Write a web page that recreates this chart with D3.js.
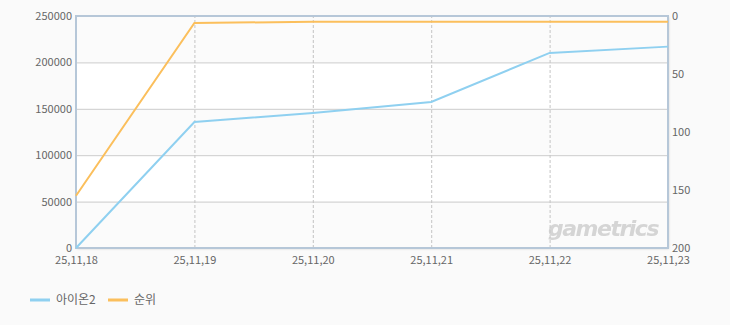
<!doctype html>
<html lang="ko">
  <head>
    <meta charset="utf-8">
    <title>아이온2 순위</title>
    <script src="https://d3js.org/d3.v7.min.js"></script>
    <style>
      body { margin: 0; background: #fafafa; }
      svg text { font-family: "Noto Sans CJK KR", "DejaVu Sans", sans-serif; }
    </style>
  </head>
  <body>
    <div id="chart"></div>

    <script>
      // data
      var dates = ["25,11,18", "25,11,19", "25,11,20", "25,11,21", "25,11,22", "25,11,23"];
      var users = [0, 135800, 145500, 157300, 210200, 217000];
      var ranks = [155, 6, 5, 5, 5, 5];
      var leftTicks = [0, 50000, 100000, 150000, 200000, 250000];
      var rightTicks = [0, 50, 100, 150, 200];
      var seriesNames = ["아이온2", "순위"];
      var seriesColors = ["#8fd0f0", "#fbbf5c"];

      var W = 730, H = 325;
      var margin = {top: 16, right: 62, bottom: 77, left: 76};
      var width = W - margin.left - margin.right,
          height = H - margin.top - margin.bottom;

      var svg = d3.select("#chart")
        .append("svg")
          .attr("width", W)
          .attr("height", H);

      var defs = svg.append("defs");
      var f = defs.append("filter").attr("id", "shadow")
        .attr("x", "-5%").attr("y", "-5%").attr("width", "110%").attr("height", "115%");
      f.append("feDropShadow").attr("dx", 1).attr("dy", 1).attr("stdDeviation", 1.2)
        .attr("flood-color", "#000").attr("flood-opacity", 0.15);

      var g = svg.append("g")
        .attr("transform", "translate(" + margin.left + "," + margin.top + ")");

      var x = d3.scalePoint().domain(dates).range([0, width]);
      var y = d3.scaleLinear().domain([0, 250000]).range([height, 0]);
      var yr = d3.scaleLinear().domain([0, 200]).range([0, height]);

      // frame with shadow
      g.append("rect")
        .attr("width", width).attr("height", height)
        .attr("fill", "#fff")
        .attr("filter", "url(#shadow)");

      // alternating bands
      for (var i = 0; i < leftTicks.length - 1; i++) {
        g.append("rect")
          .attr("x", 0)
          .attr("y", y(leftTicks[i + 1]))
          .attr("width", width)
          .attr("height", y(leftTicks[i]) - y(leftTicks[i + 1]))
          .attr("fill", i % 2 === 0 ? "#fbfbfb" : "#ffffff");
      }

      // horizontal grid
      g.append("g")
        .call(d3.axisLeft(y).tickValues(leftTicks).tickSize(-width).tickFormat(""))
        .call(function(s) {
          s.select(".domain").remove();
          s.selectAll("line").attr("stroke", "#cccccc");
        });

      // vertical dashed grid
      g.append("g")
        .attr("transform", "translate(0," + height + ")")
        .call(d3.axisBottom(x).tickSize(-height).tickFormat(""))
        .call(function(s) {
          s.select(".domain").remove();
          s.selectAll("line").attr("stroke", "#c4c4c4").attr("stroke-dasharray", "3,2");
        });

      // frame border
      g.append("rect")
        .attr("width", width).attr("height", height)
        .attr("fill", "none")
        .attr("stroke", "#b6c7d8")
        .attr("stroke-width", 2);

      // watermark
      g.append("text")
        .attr("x", width - 10).attr("y", height - 12)
        .attr("text-anchor", "end")
        .style("font-family", "'DejaVu Sans', sans-serif")
        .style("font-size", "22px")
        .style("font-style", "italic")
        .style("font-weight", "bold")
        .style("letter-spacing", "-1.5px")
        .attr("fill", "#cccccc")
        .attr("opacity", 0.8)
        .text("gametrics");

      // lines
      var userLine = d3.line()
        .x(function(d, i) { return x(dates[i]); })
        .y(function(d) { return y(d); });
      var rankLine = d3.line()
        .x(function(d, i) { return x(dates[i]); })
        .y(function(d) { return yr(d); });

      g.append("path")
        .datum(users)
        .attr("fill", "none")
        .attr("stroke", seriesColors[0])
        .attr("stroke-width", 2)
        .attr("d", userLine);

      g.append("path")
        .datum(ranks)
        .attr("fill", "none")
        .attr("stroke", seriesColors[1])
        .attr("stroke-width", 2)
        .attr("d", rankLine);

      // left axis labels
      g.append("g")
        .call(d3.axisLeft(y).tickValues(leftTicks).tickSize(0).tickPadding(4).tickFormat(d3.format("d")))
        .call(function(s) {
          s.select(".domain").remove();
          s.selectAll("text").attr("fill", "#666").style("font-size", "11px");
        });

      // right axis labels
      g.append("g")
        .attr("transform", "translate(" + width + ",0)")
        .call(d3.axisRight(yr).tickValues(rightTicks).tickSize(0).tickPadding(4).tickFormat(d3.format("d")))
        .call(function(s) {
          s.select(".domain").remove();
          s.selectAll("text").attr("fill", "#666").style("font-size", "11px");
        });

      // bottom axis labels
      g.append("g")
        .attr("transform", "translate(0," + height + ")")
        .call(d3.axisBottom(x).tickSize(0).tickPadding(8))
        .call(function(s) {
          s.select(".domain").remove();
          s.selectAll("text").attr("fill", "#666").style("font-size", "11px");
        });

      // legend
      var legend = svg.append("g").attr("transform", "translate(30,300)");
      var lx = [0, 78];
      seriesNames.forEach(function(name, i) {
        legend.append("line")
          .attr("x1", lx[i]).attr("x2", lx[i] + 20)
          .attr("y1", 0).attr("y2", 0)
          .attr("stroke", seriesColors[i])
          .attr("stroke-width", 3);
        legend.append("text")
          .attr("x", lx[i] + 26).attr("y", 4)
          .attr("fill", "#666")
          .style("font-size", "12px")
          .text(name);
      });
    </script>
  </body>
</html>
